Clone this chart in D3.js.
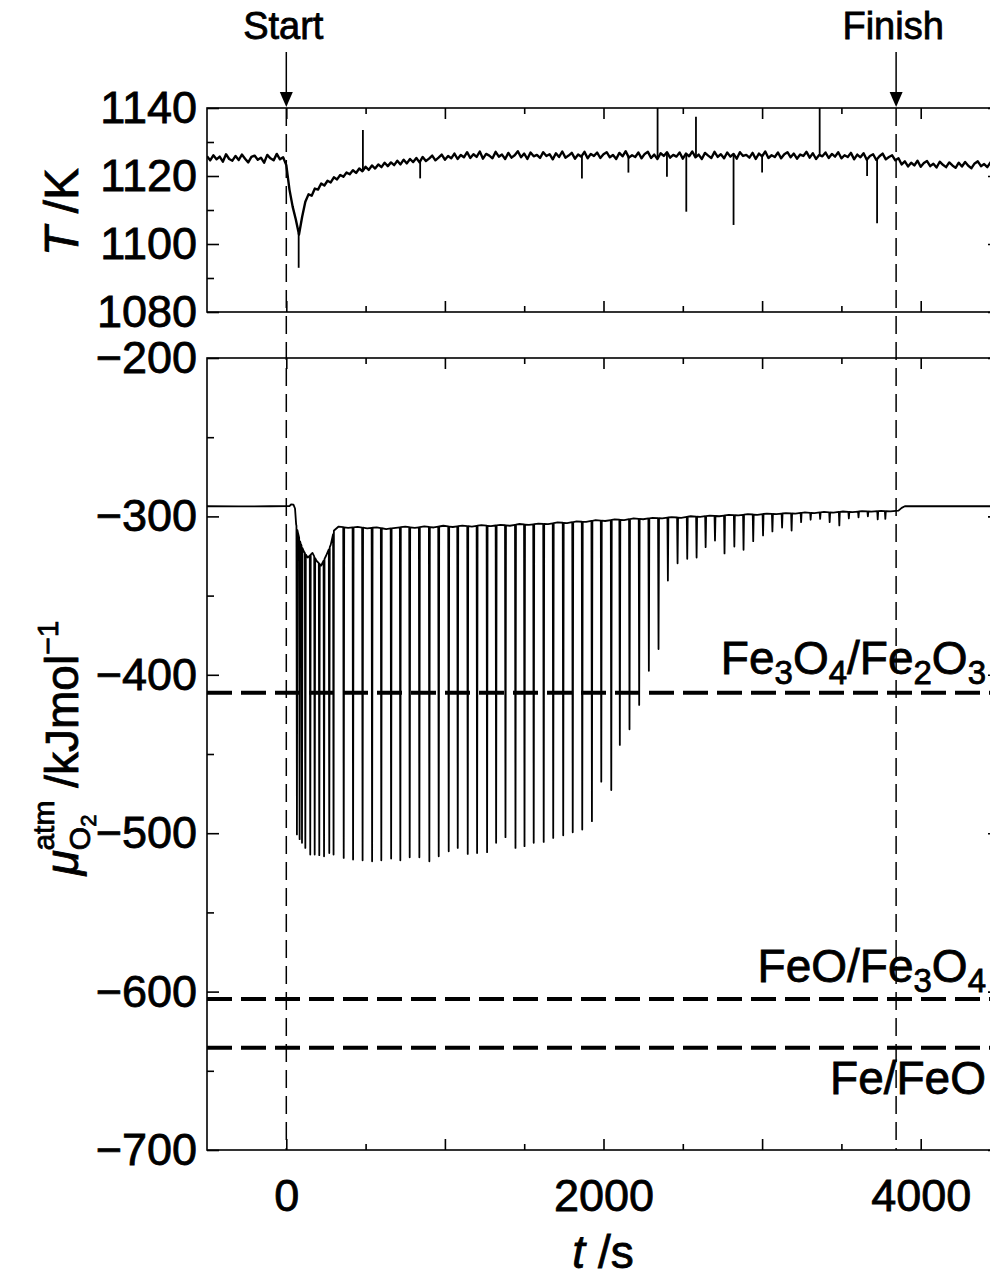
<!DOCTYPE html>
<html>
<head>
<meta charset="utf-8">
<script src="https://cdn.jsdelivr.net/npm/d3@7/dist/d3.min.js"></script>
<style>
  body { margin: 0; background: #fff; }
  text { font-family: "Liberation Sans", Arial, Helvetica, sans-serif; fill: #000; stroke: #000; stroke-width: 0.8px; }
</style>
</head>
<body>
<svg id="chart" width="990" height="1279"></svg>
<script>
// ---------------- data ----------------
// furnace temperature, logged every 20 s from t = -500 s
const tempStart = -500;
const tempStep = 20;
const tempValues = [
  1125.8, 1124.6, 1126.1, 1124.9, 1125.7, 1124.2, 1126.4, 1125.0, 1124.5, 1125.9,
  1124.7, 1126.3, 1125.1, 1124.0, 1125.6, 1126.0, 1124.8, 1125.4, 1123.9, 1126.2,
  1125.2, 1124.6, 1126.5, 1124.9, 1125.5,
  1123.2, 1116.0, 1111.0, 1107.2, 1102.8, 1108.0, 1112.4, 1114.6, 1114.2, 1116.3,
  1116.0, 1117.8, 1117.2, 1118.6, 1118.1, 1119.6, 1119.0, 1120.3, 1119.8, 1121.0,
  1120.5, 1121.7, 1120.9, 1122.2, 1121.4, 1122.7, 1121.8, 1123.1, 1122.2, 1123.4,
  1122.6, 1123.9, 1122.9, 1124.0, 1123.2, 1124.5, 1123.4, 1124.8, 1123.7, 1125.0,
  1124.1, 1125.3, 1124.0, 1125.6, 1124.4, 1125.1, 1126.0, 1124.6, 1125.4, 1126.3,
  1124.8, 1125.9, 1125.2, 1126.6, 1125.0, 1126.2, 1125.5, 1127.0, 1125.3, 1126.4,
  1125.6, 1127.2, 1125.1, 1126.5, 1126.0, 1125.2, 1127.1, 1125.7, 1126.3, 1125.0,
  1126.8, 1125.4, 1126.1, 1127.3, 1125.5, 1126.6, 1125.0, 1126.9, 1125.8, 1126.2,
  1125.3, 1127.0, 1125.9, 1126.4, 1124.9, 1126.7, 1125.6, 1127.2, 1125.4, 1126.0,
  1126.8, 1125.1, 1126.3, 1125.7, 1127.1, 1125.2, 1126.5, 1125.9, 1126.9, 1125.3,
  1126.4, 1127.0, 1125.5, 1126.2, 1125.0, 1126.8, 1125.8, 1127.3, 1125.4, 1126.1,
  1125.6, 1126.9, 1125.2, 1126.5, 1127.1, 1125.3, 1126.3, 1125.0, 1126.7, 1125.9,
  1127.0, 1125.4, 1126.2, 1125.7, 1126.9, 1125.1, 1126.6, 1125.8, 1127.2, 1125.5,
  1126.3, 1125.0, 1126.8, 1126.0, 1125.3, 1127.1, 1125.6, 1126.4, 1125.2, 1126.9,
  1125.7, 1126.5, 1125.1, 1127.0, 1125.9, 1126.2, 1125.4, 1126.8, 1125.0, 1126.6,
  1125.8, 1127.2, 1125.3, 1126.1, 1125.6, 1126.9, 1125.2, 1126.4, 1127.0, 1125.5,
  1126.6, 1125.1, 1126.3, 1125.9, 1127.1, 1125.4, 1126.7, 1125.0, 1126.2, 1125.8,
  1126.9, 1125.3, 1126.5, 1125.7, 1127.0, 1125.2, 1126.1, 1125.6, 1126.8, 1124.9,
  1126.3, 1125.5, 1126.7, 1124.8, 1125.9, 1126.4, 1124.7, 1125.8, 1126.6, 1124.9,
  1125.6, 1126.1, 1124.6, 1125.2, 1123.4, 1124.3, 1122.8, 1123.9, 1123.1, 1124.5,
  1122.7, 1123.8, 1124.4, 1122.9, 1123.6, 1122.5, 1124.2, 1123.3, 1122.6, 1124.0,
  1123.1, 1122.4, 1123.9, 1122.8, 1124.1, 1123.0, 1122.3, 1123.7, 1124.3, 1122.9,
  1123.5, 1122.6, 1124.0, 1123.2, 1122.8, 1123.6
];
// isolated temperature glitches
const tempSpikeTimes  = [78, 483, 844, 1864, 2157, 2341, 2400, 2522, 2583, 2820, 3000, 3363, 3662, 3725];
const tempSpikeValues = [1093.0, 1133.5, 1119.3, 1119.3, 1121.0, 1140.0, 1119.8, 1109.5, 1137.4, 1105.6, 1121.0, 1140.0, 1120.0, 1106.1];

// oxygen chemical potential of the atmosphere: baseline [t, value]
const muBaseline = [
  [-500, -293.6], [-300, -293.7], [-100, -293.6], [20, -293.5], [30, -292.4], [45, -292.6],
  [55, -295.0], [62, -305.0], [75, -311.0], [90, -317.0], [110, -322.0], [135, -326.0],
  [165, -323.0], [190, -328.0], [220, -331.0], [250, -325.0], [280, -318.0], [300, -309.0],
  [330, -306.4], [390, -307.3], [450, -306.6], [510, -307.5], [570, -306.9], [630, -308.0],
  [690, -307.2], [750, -306.5], [810, -307.3], [870, -306.3], [930, -307.0], [990, -305.9],
  [1050, -306.7], [1110, -305.8], [1170, -306.4], [1230, -305.5], [1290, -306.2], [1350, -305.3],
  [1410, -305.9], [1470, -304.8], [1530, -305.4], [1590, -304.5], [1650, -304.9], [1710, -303.8],
  [1770, -304.2], [1830, -303.2], [1890, -303.5], [1950, -302.4], [2010, -302.9], [2070, -301.9],
  [2130, -302.3], [2190, -301.3], [2250, -301.8], [2310, -300.9], [2370, -301.2], [2430, -300.4],
  [2490, -300.9], [2550, -299.9], [2610, -300.3], [2670, -299.5], [2730, -299.9], [2790, -299.0],
  [2850, -299.4], [2910, -298.6], [2970, -299.0], [3030, -298.2], [3090, -298.6], [3150, -297.9],
  [3210, -298.2], [3270, -297.5], [3330, -297.9], [3390, -297.2], [3450, -297.6], [3510, -296.9],
  [3570, -297.3], [3630, -296.7], [3690, -297.0], [3750, -296.5], [3810, -296.8], [3860, -296.4],
  [3880, -294.6], [3900, -293.6], [4500, -293.6]
];
// pulsed reduction: time of each pulse and the minimum reached
const spikeTimes = [
  67, 84, 99, 120, 151, 179, 208, 238, 271, 298,
  362, 421, 481, 541, 599, 661, 719, 778, 839, 902,
  961, 1024, 1081, 1144, 1203, 1266, 1323, 1382, 1445, 1502,
  1560, 1623, 1683, 1746, 1806, 1866, 1927, 1986, 2049, 2103,
  2164, 2225, 2286, 2347, 2406, 2467, 2528, 2587, 2644, 2703,
  2763, 2825, 2883, 2944, 3006, 3065, 3126, 3186, 3246, 3306,
  3366, 3426, 3487, 3547, 3608, 3667, 3729, 3777
];
const spikeDepths = [
  -500.8, -503.8, -506.1, -509.3, -513.5, -513.5, -513.9, -514.6, -512.5, -513.5,
  -515.6, -516.6, -517.1, -517.7, -517.1, -516.0, -517.1, -515.2, -515.2, -517.7,
  -514.6, -511.4, -509.3, -513.1, -512.5, -512.0, -506.1, -502.5, -509.3, -508.2,
  -506.1, -505.5, -503.0, -501.3, -499.4, -497.7, -492.4, -467.5, -472.8, -444.3,
  -434.4, -419.0, -397.5, -383.7, -340.5, -329.6, -326.8, -326.0, -319.4, -315.2,
  -323.4, -319.0, -321.1, -315.6, -312.0, -309.5, -307.0, -308.9, -303.6, -302.1,
  -301.6, -303.6, -305.7, -301.3, -300.6, -300.0, -301.9, -301.6
];

// phase equilibria
const equilibriumValues = [-411.3, -604.6, -635.4];
const equilibriumLabels = [
  [["Fe", 0], ["3", 1], ["O", 0], ["4", 1], ["/Fe", 0], ["2", 1], ["O", 0], ["3", 1]],
  [["FeO/Fe", 0], ["3", 1], ["O", 0], ["4", 1]],
  [["Fe/FeO", 0]]
];

// run markers
const markerTimes = [0, 3845];
const markerLabels = ["Start", "Finish"];

// axes
const timeDomain = [-500, 4500];
const timeMajorTicks = [0, 1000, 2000, 3000, 4000];
const timeMinorTicks = [500, 1500, 2500, 3500];
const timeLabels = [0, 2000, 4000];
const tempDomain = [1080, 1140];
const tempMajorTicks = [1080, 1100, 1120, 1140];
const tempMinorTicks = [1090, 1110, 1130];
const muDomain = [-700, -200];
const muMajorTicks = [-700, -600, -500, -400, -300, -200];
const muMinorTicks = [-650, -550, -450, -350, -250];

// ---------------- layout ----------------
const svg = d3.select("#chart");
const left = 207, right = 1000;
const topPanel = { top: 108, bottom: 312 };
const botPanel = { top: 358, bottom: 1150 };
const font = 45;

const x = d3.scaleLinear().domain(timeDomain).range([left, right]);
const yT = d3.scaleLinear().domain(tempDomain).range([topPanel.bottom, topPanel.top]);
const yM = d3.scaleLinear().domain(muDomain).range([botPanel.bottom, botPanel.top]);

const defs = svg.append("defs");
defs.append("clipPath").attr("id", "clipT").append("rect")
  .attr("x", left).attr("y", topPanel.top).attr("width", right - left).attr("height", topPanel.bottom - topPanel.top);
defs.append("clipPath").attr("id", "clipM").append("rect")
  .attr("x", left).attr("y", botPanel.top).attr("width", right - left).attr("height", botPanel.bottom - botPanel.top);

// ---------------- temperature trace ----------------
const tempTimes = tempValues.map((_, i) => tempStart + i * tempStep);
const tempPoints = tempTimes.map((t, i) => ({ t, v: tempValues[i] }));
const tempAt = d3.scaleLinear().domain(tempTimes).range(tempValues);

const gT = svg.append("g").attr("clip-path", "url(#clipT)");
gT.append("path")
  .datum(tempPoints)
  .attr("fill", "none").attr("stroke", "#000").attr("stroke-width", 2.4)
  .attr("stroke-linejoin", "round")
  .attr("d", d3.line().x(d => x(d.t)).y(d => yT(d.v)));
gT.selectAll("line.tspike")
  .data(tempSpikeTimes.map((t, i) => ({ t, v: tempSpikeValues[i] })))
  .join("line").attr("class", "tspike")
  .attr("x1", d => x(d.t)).attr("x2", d => x(d.t))
  .attr("y1", d => yT(tempAt(d.t))).attr("y2", d => yT(d.v))
  .attr("stroke", "#000").attr("stroke-width", 1.8);

// ---------------- chemical potential trace ----------------
const muAt = d3.scaleLinear().domain(muBaseline.map(d => d[0])).range(muBaseline.map(d => d[1]));
const halfWidth = 3; // s, half width of a pulse
let muPoints = muBaseline.map(d => ({ t: d[0], v: d[1] }));
spikeTimes.forEach((t, i) => {
  muPoints.push({ t: t - halfWidth, v: muAt(t - halfWidth) });
  muPoints.push({ t: t, v: spikeDepths[i] });
  muPoints.push({ t: t + halfWidth, v: muAt(t + halfWidth) });
});
muPoints.sort((a, b) => a.t - b.t);

const gM = svg.append("g").attr("clip-path", "url(#clipM)");
gM.append("path")
  .datum(muPoints)
  .attr("fill", "none").attr("stroke", "#000").attr("stroke-width", 1.8)
  .attr("stroke-linejoin", "round")
  .attr("d", d3.line().x(d => x(d.t)).y(d => yM(d.v)));

// equilibrium lines
gM.selectAll("line.eq")
  .data(equilibriumValues)
  .join("line").attr("class", "eq")
  .attr("x1", left).attr("x2", right)
  .attr("y1", d => yM(d)).attr("y2", d => yM(d))
  .attr("stroke", "#000").attr("stroke-width", 4)
  .attr("stroke-dasharray", "25,9");

// equilibrium labels
const labelOffsets = [-19, -17, 46];
equilibriumLabels.forEach((parts, i) => {
  const txt = svg.append("text")
    .attr("x", 986).attr("y", yM(equilibriumValues[i]) + labelOffsets[i])
    .attr("text-anchor", "end").attr("font-size", 46);
  let shift = 0;
  parts.forEach(([s, sub]) => {
    const target = sub ? 10 : 0;
    txt.append("tspan")
      .attr("font-size", sub ? 33 : 46)
      .attr("dy", target - shift)
      .text(s);
    shift = target;
  });
});

// ---------------- frames and ticks ----------------
function frame(p) {
  svg.append("rect")
    .attr("x", left).attr("y", p.top).attr("width", right - left).attr("height", p.bottom - p.top)
    .attr("fill", "none").attr("stroke", "#000").attr("stroke-width", 1.6);
}
frame(topPanel);
frame(botPanel);

function styleAxis(g) {
  g.select(".domain").remove();
  g.selectAll(".tick line").attr("stroke", "#000").attr("stroke-width", 1.6);
  g.selectAll("text").attr("font-size", font).attr("font-family", null).attr("fill", "#000");
}
function ticksOnly(axisFn, scale, values, size, transform) {
  const g = svg.append("g").attr("transform", transform)
    .call(axisFn(scale).tickValues(values).tickSize(-size).tickFormat(""));
  styleAxis(g);
  return g;
}

// time ticks on every horizontal edge
[[topPanel.top, d3.axisTop], [topPanel.bottom, d3.axisBottom],
 [botPanel.top, d3.axisTop], [botPanel.bottom, d3.axisBottom]].forEach(([yy, fn]) => {
  ticksOnly(fn, x, timeMajorTicks, 11, `translate(0,${yy})`);
  ticksOnly(fn, x, timeMinorTicks, 6, `translate(0,${yy})`);
});
// time labels
const gx = svg.append("g").attr("transform", `translate(0,${botPanel.bottom})`)
  .call(d3.axisBottom(x).tickValues(timeLabels).tickSize(0).tickPadding(29).tickFormat(d3.format("d")));
styleAxis(gx);

// vertical ticks
const minusFmt = d => String(d).replace("-", "\u2212");
ticksOnly(d3.axisLeft, yT, tempMajorTicks, 12, `translate(${left},0)`);
ticksOnly(d3.axisLeft, yT, tempMinorTicks, 7, `translate(${left},0)`);
ticksOnly(d3.axisRight, yT, tempMajorTicks, 12, `translate(${right},0)`);
ticksOnly(d3.axisRight, yT, tempMinorTicks, 7, `translate(${right},0)`);
ticksOnly(d3.axisLeft, yM, muMajorTicks, 12, `translate(${left},0)`);
ticksOnly(d3.axisLeft, yM, muMinorTicks, 7, `translate(${left},0)`);
ticksOnly(d3.axisRight, yM, muMajorTicks, 12, `translate(${right},0)`);
ticksOnly(d3.axisRight, yM, muMinorTicks, 7, `translate(${right},0)`);

const gyT = svg.append("g").attr("transform", `translate(${left},0)`)
  .call(d3.axisLeft(yT).tickValues(tempMajorTicks).tickSize(0).tickPadding(10).tickFormat(d3.format("d")));
styleAxis(gyT);
const gyM = svg.append("g").attr("transform", `translate(${left},0)`)
  .call(d3.axisLeft(yM).tickValues(muMajorTicks).tickSize(0).tickPadding(10).tickFormat(minusFmt));
styleAxis(gyM);

// ---------------- start / finish markers ----------------
markerTimes.forEach((t, i) => {
  const xx = x(t);
  svg.append("line")
    .attr("x1", xx).attr("x2", xx).attr("y1", topPanel.top).attr("y2", botPanel.bottom)
    .attr("stroke", "#000").attr("stroke-width", 1.5).attr("stroke-dasharray", "18,8");
  svg.append("line")
    .attr("x1", xx).attr("x2", xx).attr("y1", 52).attr("y2", 94)
    .attr("stroke", "#000").attr("stroke-width", 1.5);
  svg.append("path")
    .attr("d", `M${xx - 6.5},92 L${xx + 6.5},92 L${xx},107 Z`)
    .attr("fill", "#000");
  svg.append("text")
    .attr("x", xx - 3).attr("y", 39).attr("text-anchor", "middle")
    .attr("font-size", 38).text(markerLabels[i]);
});

// ---------------- axis titles ----------------
const tTitle = svg.append("text").attr("transform", "translate(78,212) rotate(-90)")
  .attr("text-anchor", "middle").attr("font-size", 48);
tTitle.append("tspan").attr("font-style", "italic").text("T");
tTitle.append("tspan").text(" /K");

const xTitle = svg.append("text").attr("x", 603).attr("y", 1268)
  .attr("text-anchor", "middle").attr("font-size", 46);
xTitle.append("tspan").attr("font-style", "italic").text("t");
xTitle.append("tspan").text(" /s");

const muTitle = svg.append("text").attr("transform", "translate(78,748) rotate(-90)")
  .attr("text-anchor", "middle").attr("font-size", 46);
muTitle.append("tspan").attr("font-style", "italic").text("\u03bc");
muTitle.append("tspan").attr("font-size", 30).attr("dy", 12).text("O");
muTitle.append("tspan").attr("font-size", 22).attr("dy", 6).text("2");
muTitle.append("tspan").attr("font-size", 30).attr("dx", -36).attr("dy", -42).text("atm");
muTitle.append("tspan").attr("dy", 24).text(" /kJmol");
muTitle.append("tspan").attr("font-size", 30).attr("dy", -20).text("\u22121");
</script>
</body>
</html>
